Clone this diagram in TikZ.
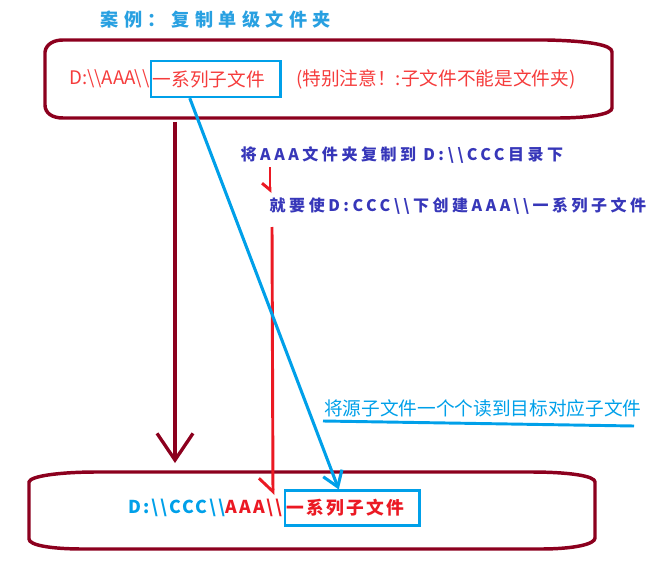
\documentclass[tikz,border=0pt]{standalone}
\usepackage{fontspec}
\usepackage{tikz}
\usetikzlibrary{arrows.meta}
\usetikzlibrary{positioning}
\usetikzlibrary{calc}
\setmainfont{Noto Sans CJK SC}
\newfontfamily\titlefont[LetterSpace=30]{Noto Sans CJK SC}
\newfontfamily\stepfont[LetterSpace=22]{Noto Sans CJK SC}
\newfontfamily\pathfont[LetterSpace=12]{Noto Sans CJK SC}
\newcommand\bsl{\textbackslash}
\definecolor{wine}{RGB}{140,0,30}
\definecolor{linered}{RGB}{235,25,35}
\definecolor{notered}{RGB}{245,60,60}
\definecolor{boxblue}{RGB}{0,160,233}
\definecolor{titleblue}{RGB}{40,160,225}
\definecolor{stepblue}{RGB}{55,55,185}
\tikzset{
 frame/.style={draw=wine, line width=2.6pt},
 filebox/.style={draw=boxblue, line width=1.8pt, inner sep=1.5pt, align=left},
 steptext/.style={anchor=west, text=stepblue, font=\stepfont\bfseries\fontsize{12}{14}\selectfont},
}

\begin{document}
\begin{tikzpicture}[x=.75pt, y=-.75pt]
 \useasboundingbox (0,0) rectangle (656,574);
 \node[anchor=west, text=titleblue, font=\titlefont\bfseries\fontsize{13.6}{16}\selectfont] (title) at (96,20) {案例：复制单级文件夹};
 % source folder
 \draw[frame] (45,52) .. controls (46,44) and (54,40) .. (63,40) -- (547,40)
   .. controls (590,41) and (612,45) .. (612,52) -- (612,108)
   .. controls (612,114) and (590,118) .. (557,118) -- (63,118)
   .. controls (52,118) and (45,113) .. (45,105) -- cycle;
 \node[anchor=west, inner sep=0, text=notered, font=\fontsize{14}{16}\selectfont] (srcpath) at (69,79) {D:\bsl\bsl AAA\bsl\bsl};
 \node[filebox, right=0pt of srcpath, text=notered, font=\fontsize{14}{16}\selectfont, text width=94pt, minimum height=27pt] (srcfiles) {一系列子文件};
 \node[anchor=west, inner sep=0, text=notered, font=\fontsize{14}{16}\selectfont] (srcnote) at (296,79) {(特别注意！:子文件不能是文件夹)};
 % steps
 \node[steptext] (copystep) at (236,155) {将AAA文件夹复制到 D:\bsl\bsl CCC目录下};
 \node[steptext] (makestep) at (265,206) {就要使D:CCC\bsl\bsl 下创建AAA\bsl\bsl 一系列子文件};
 \node[anchor=west, inner sep=0, text=boxblue, font=\fontsize{14}{16}\selectfont] (readnote) at (324,408) {将源子文件一个个读到目标对应子文件};
 % target folder
 \draw[frame] (29,482) .. controls (30,476) and (60,472) .. (97,472) -- (530,472)
   .. controls (570,472) and (595,476) .. (595,482) -- (595,538)
   .. controls (595,544) and (575,549) .. (540,549) -- (83,549)
   .. controls (50,549) and (29,545) .. (29,539) -- cycle;
 \node[anchor=west, inner sep=0, font=\pathfont\bfseries\fontsize{13.3}{16}\selectfont] (dstpath) at (128,508) {\textcolor{boxblue}{D:\bsl\bsl CCC\bsl\bsl}\textcolor{linered}{AAA\bsl\bsl}};
 \node[filebox, right=1pt of dstpath, text=linered, font=\pathfont\bfseries\fontsize{13.3}{16}\selectfont, text width=98pt, minimum height=26pt] (dstfiles) {一系列子文件};
 % connectors
 \coordinate (srcdown) at (175,122);
 \coordinate (dstup) at (175,463);
 \coordinate (redA) at (270,167);
 \coordinate (redB) at (270,193);
 \coordinate (redC) at (272,227);
 \coordinate (redD) at (273,495);
 \coordinate (lineL) at (323,421);
 \coordinate (lineR) at (634,426);
 \draw[wine, line width=2.5pt, -{Straight Barb[length=20pt,width=27pt]}] (srcdown) -- (dstup);
 \draw[linered, line width=2.2pt, -{Straight Barb[right,length=5pt,width=12pt]}] (redA) -- (redB);
 \draw[linered, line width=2.2pt, -{Straight Barb[right,length=10pt,width=21pt]}] (redC) -- (redD);
 \draw[boxblue, line width=2.3pt, -{Straight Barb[length=11pt,width=15pt]}] ($(srcfiles.south west)+(40,0)$) -- ($(dstfiles.north west)+(55,0)$);
 \draw[boxblue, line width=2.2pt] (lineL) -- (lineR);
\end{tikzpicture}
\end{document}
